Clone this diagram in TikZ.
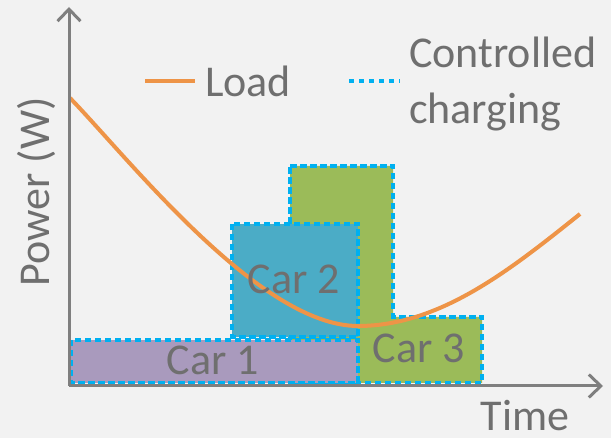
\documentclass[tikz,border=0pt]{standalone}
\usepackage{fontspec}
\setmainfont{Carlito}
\usetikzlibrary{arrows.meta}
\definecolor{bgc}{HTML}{F2F2F2}
\definecolor{axisc}{HTML}{7F7F7F}
\definecolor{txtc}{HTML}{6F6F6F}
\definecolor{loadc}{HTML}{EE9447}
\definecolor{dashc}{HTML}{00B0F0}
\definecolor{carone}{HTML}{A99ABD}
\definecolor{cartwo}{HTML}{4BACC6}
\definecolor{carthree}{HTML}{9BBB59}
\tikzset{
  lbl/.style={text=txtc, font=\fontsize{44}{48}\selectfont, inner sep=0pt},
  axis/.style={draw=axisc, line width=3pt, -{Straight Barb[length=12pt,width=23pt]}},
  charge/.style={draw=dashc, line width=3.4pt, dash pattern=on 6.5pt off 3.5pt},
  loadline/.style={draw=loadc, line width=4pt}
}
\begin{document}
\begin{tikzpicture}[x=1pt, y=-1pt]
        \fill [bgc] (0,0) rectangle (611,438);
        \useasboundingbox (0,0) rectangle (611,438);
        \coordinate (o) at (69,386);
        \coordinate (ytop) at (69,7);
        \coordinate (xend) at (603,386);
        \path [fill=carthree, charge] (290,166) -- (393,166) -- (393,317) -- (482,317) -- (482,383) -- (290,383) -- cycle;
        \path [fill=cartwo, charge] (232,224) rectangle (358,337);
        \path [fill=carone, charge] (71,340) rectangle (358,383);
        \draw [loadline] (70,98) .. controls (130,160) and (260,326) .. (358,326) .. controls (440,326) and (510,270) .. (580,214);
        \draw [axis] (o) -- (ytop);
        \draw [axis] (o) -- (xend);
        \node [lbl, anchor=base] (car1) at (213,375) {Car 1};
        \node [lbl, anchor=base] (car2) at (294,294) {Car 2};
        \node [lbl, anchor=base] (car3) at (419,363) {Car 3};
        \coordinate (loada) at (145,81);
        \coordinate (loadb) at (195,81);
        \draw [loadline] (loada) -- (loadb);
        \node [lbl, anchor=base west] (load) at (205,97) {Load};
        \coordinate (chga) at (349,81);
        \coordinate (chgb) at (400,81);
        \draw [charge, dash pattern=on 5pt off 5pt] (chga) -- (chgb);
        \node [lbl, anchor=base west] (ctrl) at (409,68) {Controlled};
        \node [lbl, anchor=base west] (chg) at (409,124) {charging};
        \node [lbl, anchor=base, rotate=90] (power) at (49,192) {Power (W)};
        \node [lbl, anchor=base] (time) at (525,431) {Time};
      \end{tikzpicture}
\end{document}
